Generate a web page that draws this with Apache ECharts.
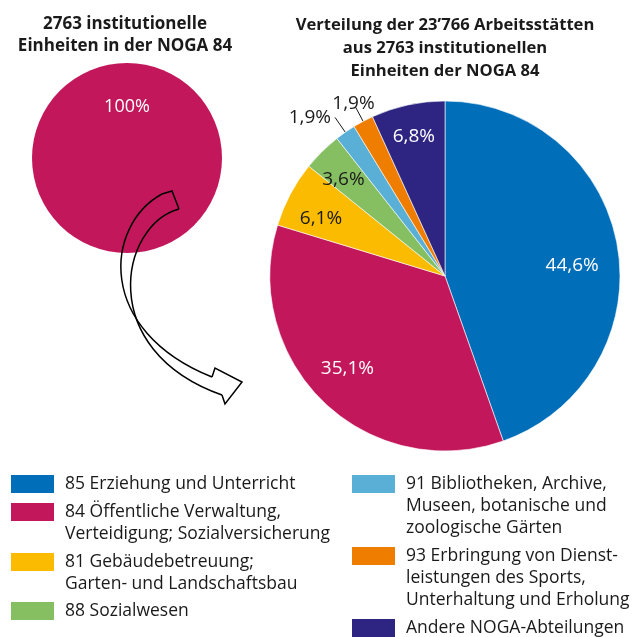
<!DOCTYPE html>
<html>
<head>
<meta charset="utf-8">
<script src="https://cdn.jsdelivr.net/npm/echarts@6/dist/echarts.min.js"></script>
<style>
  html, body { margin: 0; padding: 0; background: #fff; }
  #chart { width: 632px; height: 637px; }
</style>
</head>
<body>
<div id="chart"></div>
<script>
// Kategorien (NOGA-Abteilungen), im Uhrzeigersinn ab 12 Uhr
const categories = [
  '85 Erziehung und Unterricht',
  '84 Öffentliche Verwaltung,\nVerteidigung; Sozialversicherung',
  '81 Gebäudebetreuung;\nGarten- und Landschaftsbau',
  '88 Sozialwesen',
  '91 Bibliotheken, Archive,\nMuseen, botanische und\nzoologische Gärten',
  '93 Erbringung von Dienst-\nleistungen des Sports,\nUnterhaltung und Erholung',
  'Andere NOGA-Abteilungen'
];
// Anteile an den Arbeitsstätten in %
const shares = [44.6, 35.1, 6.1, 3.6, 1.9, 1.9, 6.8];
// institutionelle Einheiten (alle in NOGA 84)
const unitName = 'Institutionelle Einheiten NOGA 84';
const unitShare = [100];

const colors = ['#006eb8', '#c2185b', '#fbbb00', '#86bf62', '#5aafd6', '#ef7d00', '#2e2582'];
const labelColors = ['#fff', '#fff', '#1a1a1a', '#1a1a1a', '#1a1a1a', '#1a1a1a', '#fff'];
// Verschiebung der Beschriftungen (px)
const labelShift = [[38, 5], [-35, 27], [-44, -15], [-38, -32], [1, 0], [24, -4], [-12, -51]];
const fontFamily = '"Open Sans", "Noto Sans", sans-serif';
const lineH = 22;

function pct(v) {
  return (v === 100 ? '100' : v.toFixed(1).replace('.', ',')) + '%';
}

let chart = echarts.init(document.getElementById('chart'));

let pieData = categories.map((name, i) => {
  let item = {
    name: name,
    value: shares[i],
    itemStyle: { color: colors[i] },
    label: { color: labelColors[i] }
  };
  if (shares[i] < 2) {
    item.label.position = 'outside';
    item.labelLine = {
      show: true,
      length: i === 4 ? 18 : 16,
      length2: 0,
      lineStyle: { color: '#1a1a1a', width: 1 }
    };
  }
  return item;
});

// Legende: eine Komponente pro Eintrag; Leerzeilen vorne, damit das Farbfeld an der ersten Zeile steht
const legendPos = [[9, 474], [9, 502], [9, 552], [9, 601], [350, 474], [350, 546], [350, 618]];
let legends = categories.map((name, i) => {
  let lines = name.split('\n').length;
  return {
    data: [name],
    left: legendPos[i][0],
    top: legendPos[i][1] - (lines - 1) * lineH - 1,
    orient: 'vertical',
    padding: 0,
    itemWidth: 45,
    itemHeight: 20,
    icon: 'rect',
    selectedMode: false,
    formatter: n => '\u00a0\n'.repeat(lines - 1) + n,
    textStyle: {
      fontFamily: fontFamily,
      fontSize: 17.5,
      color: '#1a1a1a',
      lineHeight: lineH,
      padding: [0, 0, 0, 5]
    }
  };
});

// geschwungener Pfeil (Outline)
const arrowStyle = { fill: 'none', stroke: '#000', lineWidth: 1.5 };

chart.setOption({
  animation: false,
  title: [
    {
      text: '2763 institutionelle\nEinheiten in der NOGA 84',
      left: 125,
      top: 13,
      padding: 0,
      textAlign: 'center',
      textStyle: { fontFamily: fontFamily, fontWeight: 'bold', fontSize: 17, lineHeight: 22, color: '#1a1a1a' }
    },
    {
      text: 'Verteilung der 23’766 Arbeitsstätten\naus 2763 institutionellen\nEinheiten der NOGA 84',
      left: 445,
      top: 14,
      padding: 0,
      textAlign: 'center',
      textStyle: { fontFamily: fontFamily, fontWeight: 'bold', fontSize: 16.6, lineHeight: 23, color: '#1a1a1a' }
    }
  ],
  legend: legends,
  series: [
    {
      name: 'Einheiten',
      type: 'pie',
      center: [127, 158],
      radius: 95,
      startAngle: -90,
      silent: true,
      label: {
        position: 'inside',
        color: '#fff',
        fontFamily: fontFamily,
        fontSize: 18,
        formatter: p => pct(p.value)
      },
      labelLayout: { dy: -1 },
      data: unitShare.map(v => ({ name: unitName, value: v, itemStyle: { color: colors[1] } }))
    },
    {
      name: 'Arbeitsstätten',
      type: 'pie',
      center: [445, 276],
      radius: 175,
      startAngle: 90,
      clockwise: true,
      silent: true,
      avoidLabelOverlap: false,
      itemStyle: { borderColor: '#fff', borderWidth: 0.6 },
      label: {
        position: 'inside',
        fontFamily: fontFamily,
        fontSize: 19,
        formatter: p => pct(p.value)
      },
      labelLayout: function (p) {
        return { dx: labelShift[p.dataIndex][0], dy: labelShift[p.dataIndex][1] };
      },
      data: pieData
    }
  ],
  graphic: [
    {
      type: 'bezierCurve', z: 100,
      shape: { x1: 162, y1: 194, cpx1: 105, cpy1: 225, cpx2: 95, cpy2: 330, x2: 212, y2: 377 },
      style: arrowStyle
    },
    {
      type: 'bezierCurve', z: 100,
      shape: { x1: 179, y1: 209, cpx1: 120, cpy1: 225, cpx2: 95, cpy2: 350, x2: 222, y2: 395 },
      style: arrowStyle
    },
    {
      type: 'polyline', z: 100,
      shape: { points: [[212, 377], [215, 368], [242, 382], [225, 404], [222, 395]] },
      style: arrowStyle
    },
    {
      type: 'polyline', z: 100,
      shape: { points: [[162, 194], [172, 191], [179, 209]] },
      style: arrowStyle
    }
  ]
});
</script>
</body>
</html>
